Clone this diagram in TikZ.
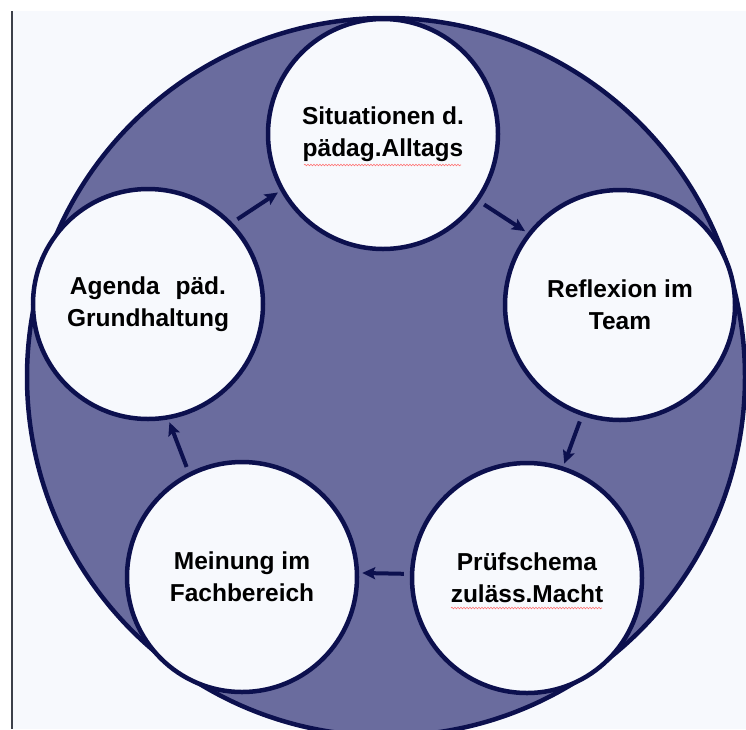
\documentclass[tikz,border=0pt]{standalone}
\usepackage{fontspec}
\setmainfont{Liberation Sans}
\usetikzlibrary{arrows.meta,decorations.pathmorphing}
\definecolor{navy}{RGB}{12,16,78}
\definecolor{ringfill}{RGB}{106,108,158}
\definecolor{pagebg}{RGB}{247,249,253}
\definecolor{rulegrey}{RGB}{60,64,74}
\begin{document}
\begin{tikzpicture}[x=1pt,y=-1pt,
  ring/.style={circle, draw=navy, line width=4.5pt, fill=ringfill, minimum size=718pt, inner sep=0pt},
  stage/.style={circle, draw=navy, line width=4.5pt, fill=pagebg, minimum size=230pt, inner sep=0pt,
    align=center, text=black, font=\bfseries\fontsize{24.5}{32}\selectfont},
  flow/.style={draw=navy, line width=4pt, -{Stealth[length=13pt,width=12pt,inset=2.5pt]},
    shorten <=6pt, shorten >=3pt},
  spell/.style={draw=red!55!white, line width=0.6pt, decorate,
    decoration={snake, amplitude=0.8pt, segment length=3pt}}]
\useasboundingbox (0,0) rectangle (746,729);
\clip (0,0) rectangle (746,729);
\fill[white] (0,0) rectangle (746,729);
\fill[pagebg] (12,11) rectangle (746,729);
\draw[rulegrey, line width=2pt] (12,11) -- (12,729);
\node[ring] (big) at (386,377) {};
\node[stage] (sit) at (383,134) {Situationen d.\\pädag.Alltags};
\node[stage] (refl) at (620,305) {Reflexion im\\Team};
\node[stage] (pruef) at (527,578) {Prüfschema\\zuläss.Macht};
\node[stage] (mein) at (242,577) {Meinung im\\Fachbereich};
\node[stage] (agenda) at (148,304) {Agenda\hspace{9pt} päd.\\Grundhaltung};
\draw[flow] (sit.-35) -- (refl.142);
\draw[flow] (refl.251) -- (pruef.72);
\draw[flow] (pruef.178) -- (mein.2);
\draw[flow] (mein.117) -- (agenda.280);
\draw[flow] (agenda.44) -- (sit.209);
\draw[spell] ([xshift=-79pt,yshift=-31pt]sit.center) -- ([xshift=78pt,yshift=-31pt]sit.center);
\draw[spell] ([xshift=-76pt,yshift=-30pt]pruef.center) -- ([xshift=75pt,yshift=-30pt]pruef.center);
\end{tikzpicture}
\end{document}
